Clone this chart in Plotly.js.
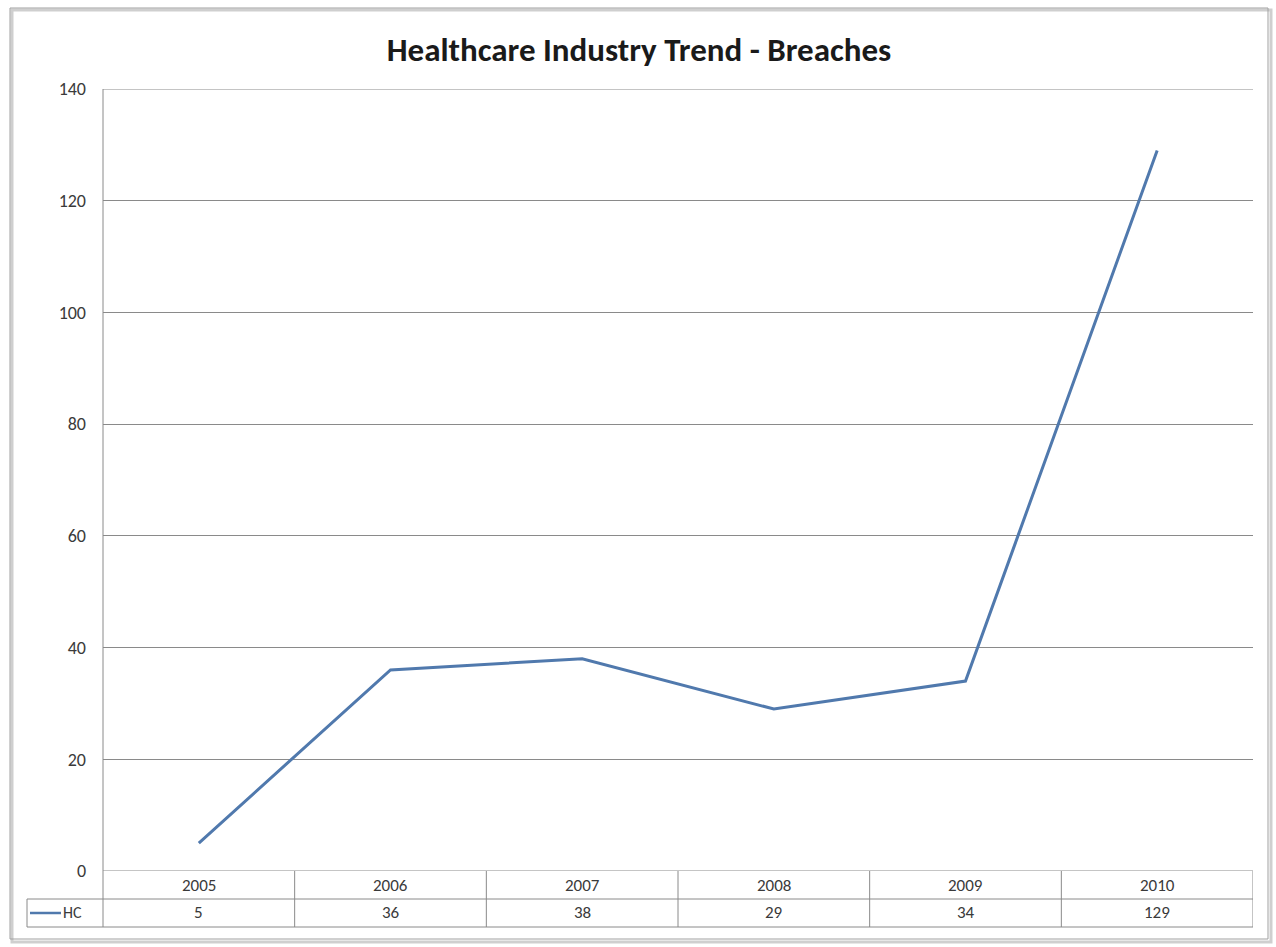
<!DOCTYPE html>
<html>
<head>
<meta charset="utf-8">
<script src="https://cdn.plot.ly/plotly-3.0.1.min.js"></script>
<style>html,body{margin:0;padding:0;background:#fff;}#chart{width:1276px;height:947px;}</style>
</head>
<body>
<div id="chart"></div>
<script>
const years = ['2005', '2006', '2007', '2008', '2009', '2010'];
const hc = [5, 36, 38, 29, 34, 129];
const seriesName = 'HC';
const yTicks = [0, 20, 40, 60, 80, 100, 120, 140];

const FONT = 'Carlito, Lato, "Open Sans", sans-serif';
const lineColor = '#5079ad';
const gridColor = '#8a8a8a';
const textColor = '#3a3a3a';

const L = 103, R = 1253, T = 89, B = 871, H = B - T, W = R - L;
const py = p => (B - p) / H;
const px = p => (p - L) / W;

const shapes = [];
const annotations = [];

// outer chart frame
shapes.push({type: 'rect', xref: 'paper', yref: 'paper', x0: px(12), x1: px(1271), y0: py(942), y1: py(10),
  line: {color: '#cfcfcf', width: 3}, fillcolor: 'rgba(0,0,0,0)', layer: 'below'});
shapes.push({type: 'rect', xref: 'paper', yref: 'paper', x0: px(10), x1: px(1268), y0: py(939), y1: py(8),
  line: {color: '#a0a0a0', width: 1}, fillcolor: 'rgba(0,0,0,0)', layer: 'below'});

// top gridline (140) and baseline (0)
shapes.push({type: 'line', xref: 'paper', yref: 'y', x0: 0, x1: 1, y0: yTicks[yTicks.length - 1], y1: yTicks[yTicks.length - 1], line: {color: gridColor, width: 1}});
shapes.push({type: 'line', xref: 'paper', yref: 'y', x0: 0, x1: 1, y0: yTicks[0], y1: yTicks[0], line: {color: gridColor, width: 1}});

// table horizontal lines
const rowMid = 899, rowBot = 927;
shapes.push({type: 'line', xref: 'paper', yref: 'paper', x0: px(27), x1: 1, y0: py(rowMid), y1: py(rowMid), line: {color: gridColor, width: 1}});
shapes.push({type: 'line', xref: 'paper', yref: 'paper', x0: px(27), x1: 1, y0: py(rowBot), y1: py(rowBot), line: {color: gridColor, width: 1}});
// left edges
shapes.push({type: 'line', xref: 'paper', yref: 'paper', x0: 0, x1: 0, y0: 1, y1: py(rowBot), line: {color: gridColor, width: 1}});
shapes.push({type: 'line', xref: 'paper', yref: 'paper', x0: px(27), x1: px(27), y0: py(rowMid), y1: py(rowBot), line: {color: gridColor, width: 1}});
// column boundaries
for (let i = 0; i < years.length; i++) {
  shapes.push({type: 'line', xref: 'x', yref: 'paper', x0: i + 0.5, x1: i + 0.5, y0: 0, y1: py(rowBot), line: {color: gridColor, width: 1}});
}
// legend key line
shapes.push({type: 'line', xref: 'paper', yref: 'paper', x0: px(30), x1: px(61), y0: py(913), y1: py(913), line: {color: lineColor, width: 2.5}});

// table text
years.forEach((yr, i) => {
  annotations.push({xref: 'x', yref: 'paper', x: i, y: py(885), text: yr, showarrow: false,
    font: {family: FONT, size: 17, color: textColor}, xanchor: 'center', yanchor: 'middle'});
  annotations.push({xref: 'x', yref: 'paper', x: i, y: py(913), text: String(hc[i]), showarrow: false,
    font: {family: FONT, size: 17, color: textColor}, xanchor: 'center', yanchor: 'middle'});
});
annotations.push({xref: 'paper', yref: 'paper', x: px(61), y: py(913), text: seriesName, showarrow: false,
  font: {family: FONT, size: 16, color: textColor}, xanchor: 'left', yanchor: 'middle'});

const trace = {
  x: years.map((_, i) => i),
  y: hc,
  type: 'scatter',
  mode: 'lines',
  name: seriesName,
  line: {color: lineColor, width: 3},
  hoverinfo: 'skip'
};

const layout = {
  width: 1276, height: 947,
  margin: {l: L, r: 1276 - R, t: T, b: 947 - B, pad: 0},
  paper_bgcolor: '#ffffff',
  plot_bgcolor: '#ffffff',
  showlegend: false,
  title: {text: '<b>Healthcare Industry Trend - Breaches</b>', x: 639 / 1276, xref: 'container', xanchor: 'center',
    y: 1 - 49 / 947, yanchor: 'middle', font: {family: FONT, size: 33, color: '#1a1a1a'}},
  xaxis: {
    range: [-0.5, years.length - 0.5],
    showticklabels: false, showgrid: false, zeroline: false, showline: false, ticks: '', fixedrange: true
  },
  yaxis: {
    range: [0, 140], tickvals: yTicks, ticktext: yTicks.map(String),
    showgrid: true, gridcolor: gridColor, gridwidth: 1, zeroline: false,
    showline: false, ticks: '', ticklabelstandoff: 16,
    tickfont: {family: FONT, size: 18, color: textColor}, fixedrange: true
  },
  shapes: shapes,
  annotations: annotations
};

Plotly.newPlot('chart', [trace], layout, {displayModeBar: false, staticPlot: true});
</script>
</body>
</html>
